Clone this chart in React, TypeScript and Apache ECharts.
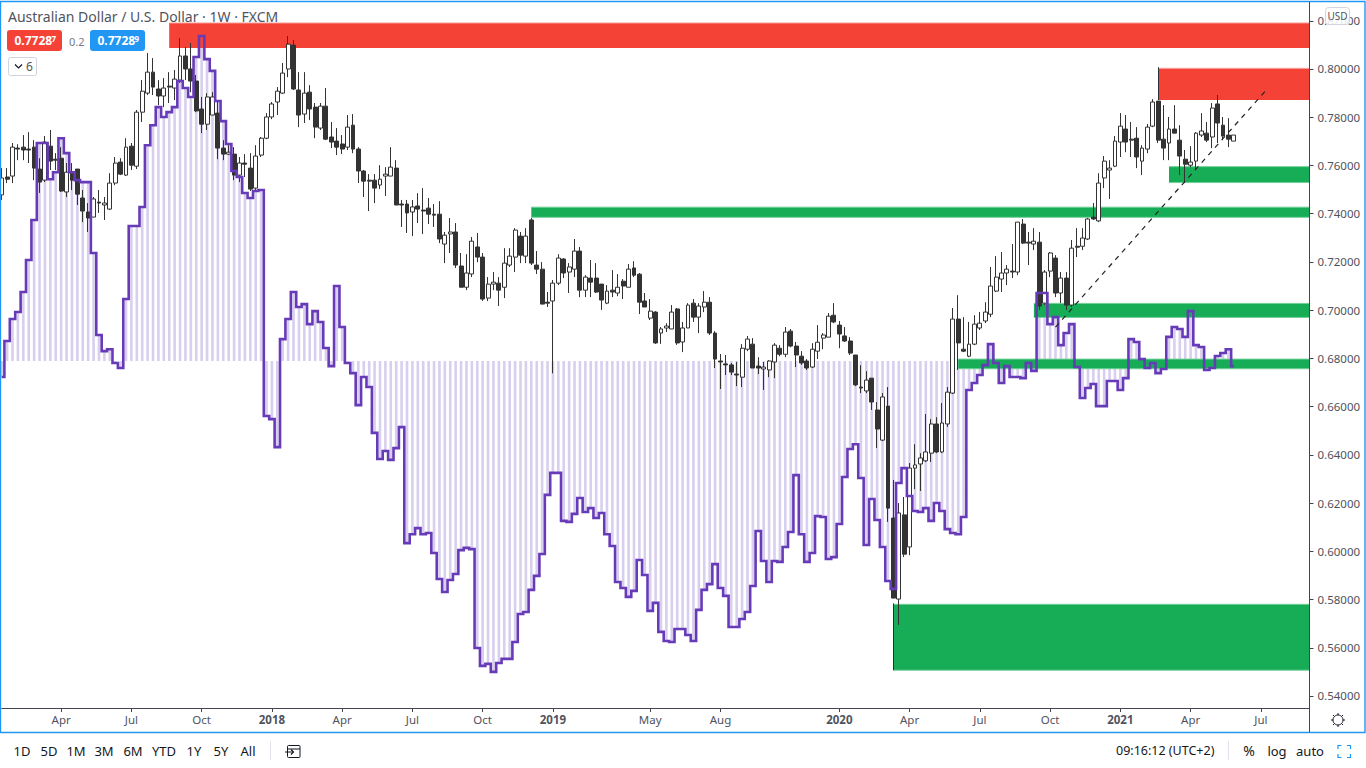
import React, { useEffect, useRef } from "react";
import * as echarts from "echarts";

// [open, close, low, high] per week
const candlesA = [
[.7478,.7548,.7457,.7589],[.7552,.7543,.7527,.7589],[.7556,.7676,.7527,.7693],[.7672,.7668,.7622,.7688],[.7676,.7664,.7622,.7726],
[.7668,.7664,.7610,.7738],[.7676,.7589,.7539,.7705],[.7585,.7531,.7486,.7630],[.7539,.7697,.7531,.7722],[.7680,.7618,.7581,.7747],
[.7626,.7622,.7581,.7651],[.7630,.7494,.7490,.7676],[.7490,.7572,.7469,.7610],[.7568,.7539,.7498,.7610],[.7585,.7481,.7436,.7585],
[.7465,.7411,.7365,.7498],[.7407,.7382,.7324,.7444],[.7386,.7461,.7386,.7469],[.7448,.7444,.7403,.7498],[.7436,.7444,.7374,.7469],
[.7419,.7527,.7415,.7568],[.7527,.7610,.7518,.7635],[.7614,.7564,.7560,.7630],[.7560,.7676,.7556,.7713],[.7680,.7601,.7581,.7693],
[.7597,.7821,.7585,.7830],[.7821,.7908,.7780,.7954],[.7900,.7987,.7892,.8066],[.7987,.7925,.7892,.8045],[.7917,.7888,.7850,.7954],
[.7888,.7921,.7842,.7962],[.7929,.7925,.7859,.7987],[.7921,.7958,.7871,.7996],[.7954,.8054,.7942,.8128],[.8054,.8000,.7954,.8091],
[.8000,.7950,.7904,.8108],[.7950,.7826,.7821,.7975],[.7834,.7771,.7734,.7884],[.7771,.7884,.7747,.7900],[.7809,.7884,.7809,.7904],
[.7817,.7672,.7626,.7871],[.7672,.7647,.7622,.7705],[.7647,.7655,.7643,.7693],[.7647,.7560,.7539,.7676],[.7560,.7610,.7531,.7635],
[.7610,.7605,.7552,.7647],[.7589,.7502,.7494,.7651],[.7506,.7639,.7498,.7684],[.7643,.7713,.7635,.7718],[.7713,.7801,.7709,.7817],
];
const candlesB = [
[.7801,.7855,.7792,.7863],[.7863,.7908,.7809,.7925],[.7900,.7983,.7896,.8025],[.8000,.8103,.7966,.8137],[.8099,.7917,.7913,.8120],
[.7913,.7809,.7759,.7987],[.7813,.7900,.7776,.7987],[.7904,.7834,.7788,.7933],[.7842,.7759,.7713,.7859],[.7755,.7846,.7747,.7859],
[.7846,.7709,.7705,.7921],[.7718,.7697,.7672,.7780],[.7701,.7676,.7643,.7755],[.7689,.7668,.7647,.7726],[.7676,.7759,.7664,.7809],
[.7767,.7668,.7651,.7813],[.7668,.7577,.7527,.7676],[.7577,.7535,.7469,.7581],[.7539,.7535,.7411,.7564],[.7539,.7506,.7444,.7564],
[.7519,.7543,.7502,.7601],[.7556,.7564,.7473,.7593],[.7556,.7593,.7556,.7676],[.7589,.7436,.7436,.7622],[.7440,.7436,.7345,.7457],
[.7440,.7403,.7320,.7457],[.7407,.7428,.7307,.7457],[.7432,.7419,.7361,.7485],[.7415,.7411,.7316,.7506],[.7423,.7398,.7357,.7465],
[.7398,.7394,.7345,.7440],[.7398,.7295,.7278,.7452],[.7274,.7311,.7195,.7324],[.7316,.7324,.7237,.7382],[.7324,.7187,.7175,.7361],
[.7183,.7095,.7095,.7237],[.7095,.7154,.7083,.7232],[.7150,.7286,.7137,.7303],[.7262,.7220,.7199,.7320],[.7220,.7046,.7038,.7237],
[.7050,.7108,.7038,.7137],[.7108,.7116,.7083,.7158],[.7112,.7083,.7017,.7137],[.7095,.7195,.7050,.7257],[.7187,.7224,.7179,.7257],
[.7220,.7332,.7158,.7340],[.7307,.7228,.7195,.7324],[.7224,.7307,.7195,.7340],[.7374,.7195,.7187,.7382],[.7187,.7170,.7150,.7245],
];
const candlesC = [
[.7170,.7025,.7025,.7199],[.7033,.7029,.7013,.7075],[.7038,.7112,.6738,.7125],[.7112,.7216,.7104,.7232],[.7212,.7154,.7133,.7216],
[.7158,.7179,.7071,.7195],[.7170,.7245,.7137,.7295],[.7245,.7083,.7054,.7262],[.7083,.7137,.7054,.7145],[.7133,.7116,.7054,.7208],
[.7133,.7075,.7071,.7195],[.7108,.7042,.7001,.7108],[.7029,.7079,.7025,.7104],[.7083,.7075,.7054,.7166],[.7071,.7095,.7058,.7149],
[.7120,.7100,.7046,.7129],[.7095,.7170,.7095,.7191],[.7175,.7145,.7137,.7203],[.7149,.7033,.6984,.7154],[.7038,.7013,.7013,.7071],
[.6967,.6996,.6959,.7046],[.6992,.6864,.6860,.6996],[.6905,.6922,.6860,.6930],[.6926,.6934,.6909,.6946],[.6922,.6992,.6922,.7021],
[.7005,.6864,.6856,.7009],[.6868,.6926,.6826,.6951],[.6926,.7021,.6926,.7029],[.7029,.6971,.6951,.7046],[.6971,.7017,.6905,.7029],
[.7013,.7033,.6992,.7079],[.7033,.6905,.6897,.7054],[.6905,.6797,.6760,.6913],[.6789,.6785,.6673,.6818],[.6777,.6773,.6731,.6814],
[.6773,.6743,.6731,.6781],[.6735,.6731,.6685,.6785],[.6722,.6842,.6681,.6859],[.6838,.6880,.6830,.6893],[.6859,.6760,.6760,.6884],
[.6768,.6760,.6735,.6805],[.6756,.6764,.6669,.6785],[.6752,.6789,.6722,.6793],[.6785,.6855,.6718,.6863],[.6842,.6817,.6809,.6855],
[.6817,.6909,.6805,.6930],[.6913,.6851,.6846,.6922],[.6851,.6814,.6764,.6868],[.6809,.6781,.6773,.6830],[.6789,.6760,.6752,.6797],
];
const candlesD = [
[.6764,.6838,.6760,.6863],[.6830,.6867,.6797,.6938],[.6884,.6897,.6838,.6905],[.6888,.6975,.6888,.6988],[.6979,.6951,.6946,.7029],
[.6938,.6901,.6842,.6955],[.6893,.6872,.6868,.6930],[.6872,.6822,.6814,.6888],[.6814,.6690,.6685,.6814],[.6681,.6677,.6656,.6772],
[.6665,.6710,.6656,.6747],[.6718,.6619,.6586,.6718],[.6586,.6507,.6428,.6619],[.6461,.6640,.6457,.6656],[.6602,.6179,.6122,.6681],
[.6138,.5806,.5806,.6296],[.5802,.6159,.5695,.6200],[.6151,.5988,.5976,.6225],[.6018,.6345,.5984,.6366],[.6345,.6358,.6258,.6444],
[.6362,.6387,.6250,.6407],[.6375,.6412,.6370,.6569],[.6407,.6528,.6370,.6548],[.6528,.6412,.6407,.6556],[.6412,.6532,.6407,.6615],
[.6528,.6660,.6516,.6681],[.6656,.6963,.6652,.7009],[.6963,.6864,.6752,.7062],[.6838,.6830,.6826,.6971],[.6809,.6859,.6805,.6951],
[.6859,.6942,.6855,.6979],[.6926,.6946,.6918,.6992],[.6955,.6992,.6946,.7033],[.6983,.7100,.6971,.7179],[.7079,.7137,.7075,.7224],
[.7129,.7154,.7075,.7241],[.7154,.7170,.7104,.7187],[.7162,.7158,.7133,.7274],[.7158,.7365,.7145,.7365],[.7357,.7278,.7274,.7378],
[.7282,.7278,.7187,.7324],[.7274,.7286,.7249,.7340],[.7282,.7017,.7001,.7324],[.7029,.7158,.7021,.7166],[.7162,.7237,.7137,.7241],
[.7216,.7071,.7054,.7228],[.7071,.7133,.7029,.7158],[.7133,.7021,.7001,.7158],[.7021,.7257,.7013,.7291],[.7265,.7261,.7220,.7340],
];
const candlesE = [
[.7265,.7299,.7249,.7340],[.7295,.7378,.7291,.7382],[.7386,.7378,.7374,.7444],[.7370,.7527,.7365,.7568],[.7548,.7618,.7506,.7639],
[.7581,.7589,.7461,.7622],[.7597,.7701,.7593,.7722],[.7697,.7763,.7635,.7817],[.7751,.7697,.7655,.7809],[.7709,.7705,.7635,.7780],
[.7713,.7635,.7589,.7759],[.7618,.7672,.7560,.7684],[.7668,.7759,.7651,.7772],[.7763,.7863,.7759,.7875],[.7867,.7705,.7693,.7867],
[.7709,.7672,.7622,.7850],[.7693,.7751,.7622,.7801],[.7751,.7734,.7734,.7850],[.7705,.7639,.7560,.7767],[.7626,.7605,.7527,.7664],
[.7601,.7614,.7593,.7680],[.7618,.7734,.7581,.7738],[.7726,.7743,.7718,.7817],[.7734,.7705,.7697,.7780],[.7718,.7838,.7672,.7859],
[.7855,.7776,.7693,.7892],[.7767,.7722,.7705,.7801],[.7726,.7709,.7676,.7796],[.7701,.7726,.7701,.7726],
];

const indicatorA = [
.6723,.6872,.6963,.6992,.7075,.7208,.7374,.7693,.7693,.7543,
.7572,.7713,.7651,.7572,.7539,.7531,.7531,.7237,.6897,.6830,
.6838,.6781,.6760,.7046,.7349,.7349,.7428,.7684,.7767,.7842,
.7801,.7821,.7842,.7950,.7921,.7884,.8050,.8137,.8041,.7992,
.7867,.7784,.7689,.7577,.7552,.7486,.7465,.7494,.7498,.6561,
];
const indicatorB = [
.6548,.6432,.6880,.6963,.7075,.7013,.7025,.6942,.6996,.6951,
.6843,.6768,.7100,.6930,.6781,.6739,.6606,.6723,.6681,.6491,
.6383,.6416,.6379,.6428,.6515,.6034,.6071,.6096,.6071,.6076,
.5993,.5885,.5831,.5881,.5906,.6005,.6014,.6009,.5599,.5525,
.5533,.5500,.5537,.5554,.5554,.5624,.5740,.5748,.5840,.5898,
];
const indicatorC = [
.5989,.6234,.6325,.6325,.6126,.6122,.6155,.6221,.6163,.6179,
.6138,.6159,.6071,.6022,.5873,.5848,.5811,.5836,.5964,.5902,
.5753,.5786,.5666,.5628,.5624,.5678,.5678,.5653,.5628,.5757,
.5840,.5864,.5947,.5848,.5815,.5686,.5686,.5719,.5748,.5856,
.6084,.5960,.5873,.5960,.5956,.6018,.6080,.6316,.6071,.5956,
];
const indicatorD = [
.5993,.6146,.6142,.5968,.5976,.6113,.6308,.6424,.6444,.6304,
.6026,.6217,.6130,.6018,.5877,.5844,.6283,.6345,.6229,.6167,
.6163,.6179,.6126,.6200,.6167,.6092,.6076,.6071,.6142,.6669,
.6698,.6731,.6772,.6859,.6781,.6698,.6768,.6723,.6723,.6718,
.6781,.6748,.7071,.7071,.6942,.6971,.6855,.6905,.6942,.6764,
];
const indicatorE = [
.6636,.6677,.6694,.6602,.6602,.6706,.6706,.6669,.6718,.6880,
.6868,.6797,.6760,.6781,.6739,.6756,.6889,.6930,.6922,.6889,
.6996,.6855,.6847,.6752,.6760,.6810,.6822,.6838,.6768,
];
const indicatorBase = 0.6789;

// [first week, top price, bottom price]
const redZones = [[31, .8191, .8087], [214, .8003, .7871]];
const greenZones = [[216, .7595, .7529], [98, .7427, .7385], [191, .7028, .6970], [177, .6797, .6757], [165, .5780, .5507]];
const trendLine = [[195, .6930], [234, .7913]];

const weekCount = 243;
const axisMonths: [number, string][] = [
  [11, "Apr"], [24, "Jul"], [37, "Oct"], [50, "2018"], [63, "Apr"], [76, "Jul"], [89, "Oct"], [102, "2019"],
  [120, "May"], [133, "Aug"], [155, "2020"], [168, "Apr"], [181, "Jul"], [194, "Oct"], [207, "2021"], [220, "Apr"], [233, "Jul"],
];
const priceTicks = [.54, .56, .58, .60, .62, .64, .66, .68, .70, .72, .74, .76, .78, .80, .82];
const rangeButtons: [string, number][] = [["1D", 22], ["5D", 49], ["1M", 76], ["3M", 104], ["6M", 133], ["YTD", 164], ["1Y", 194], ["5Y", 221], ["All", 248]];

const UI_FONT = "'Noto Sans', sans-serif";
const AXIS_GREY = "#50535e";

function zoneSeries(data: number[][], fill: string, edge: string, leftEdgeFor: number[]) {
  return {
    type: "custom",
    z: 2,
    silent: true,
    clip: true,
    encode: { x: 0, y: [1, 2] },
    data,
    renderItem(params: any, api: any) {
      const start = api.coord([api.value(0), api.value(1)]);
      const end = api.coord([api.value(0), api.value(2)]);
      const right = params.coordSys.x + params.coordSys.width;
      const children: any[] = [
        {
          type: "rect",
          shape: { x: start[0], y: start[1], width: right - start[0], height: end[1] - start[1] },
          style: { fill },
        },
        {
          type: "line",
          shape: { x1: start[0], y1: start[1], x2: right, y2: start[1] },
          style: { stroke: edge, lineWidth: 1 },
        },
      ];
      if (fill.toLowerCase() !== "#f44336") {
        children.push({
          type: "line",
          shape: { x1: start[0], y1: end[1], x2: right, y2: end[1] },
          style: { stroke: edge, lineWidth: 1 },
        });
      }
      if (leftEdgeFor.includes(api.value(0))) {
        const edgeX = Math.floor(start[0]) + 0.5;
        children.push({
          type: "line",
          shape: { x1: edgeX, y1: start[1] - 1, x2: edgeX, y2: end[1] },
          style: { stroke: "#2a2e39", lineWidth: 1 },
        });
      }
      return { type: "group", children };
    },
  };
}

function buildGraphic() {
  const t = (text: string, x: number, y: number, fontSize: number, fill: string, extra: any = {}) => ({
    type: "text", z: 200, x, y, silent: true,
    style: { text, fontSize, fill, fontFamily: UI_FONT, textVerticalAlign: "middle", verticalAlign: "middle", ...extra },
  });
  const line = (x1: number, y1: number, x2: number, y2: number, stroke: string, lineWidth = 1) => ({
    type: "line", z: 200, silent: true, shape: { x1, y1, x2, y2 }, style: { stroke, lineWidth },
  });
  const gearSpokes = [0, 45, 90, 135, 180, 225, 270, 315].map((deg) => {
    const a = (deg * Math.PI) / 180;
    return line(1338 + Math.cos(a) * 5, 720 + Math.sin(a) * 5, 1338 + Math.cos(a) * 7, 720 + Math.sin(a) * 7, "#131722", 1);
  });
  const poly = (points: number[][], stroke: string) => ({
    type: "polyline", z: 200, silent: true, shape: { points }, style: { stroke, lineWidth: 1.2, fill: "none" },
  });
  return [
    { type: "rect", z: 199, silent: true, shape: { x: 0.5, y: 1.5, width: 1364.5, height: 731 }, style: { fill: "none", stroke: "#2196f3", lineWidth: 1.4 } },
    line(1309.5, 2, 1309.5, 732, "#434651", 1),
    t("Australian Dollar / U.S. Dollar · 1W · FXCM", 8, 16.5, 14, "#50535e"),
    { type: "rect", z: 200, silent: true, shape: { x: 7, y: 30, width: 55, height: 21, r: 3 }, style: { fill: "#f44336" } },
    t("0.7728", 14.5, 40.5, 12, "#ffffff", { fontWeight: "bold" }),
    t("7", 51.5, 38, 8, "#ffffff", { fontWeight: "bold" }),
    t("0.2", 69, 41, 11, "#787b86"),
    { type: "rect", z: 200, silent: true, shape: { x: 90, y: 30, width: 55, height: 21, r: 3 }, style: { fill: "#2196f3" } },
    t("0.7728", 97.5, 40.5, 12, "#ffffff", { fontWeight: "bold" }),
    t("9", 134.5, 38, 8, "#ffffff", { fontWeight: "bold" }),
    { type: "rect", z: 200, silent: true, shape: { x: 8.5, y: 57.5, width: 28, height: 18, r: 2 }, style: { fill: "#ffffff", stroke: "#d1d4dc", lineWidth: 1 } },
    poly([[15, 64.5], [18.5, 68], [22, 64.5]], "#131722"),
    t("6", 26, 66.5, 12, "#50535e"),
    { type: "rect", z: 201, silent: true, shape: { x: 1325.5, y: 7.5, width: 24, height: 17, r: 3 }, style: { fill: "rgba(255,255,255,0.85)", stroke: "#d1d4dc", lineWidth: 1 } },
    { ...t("USD", 1337.5, 15.5, 10, "#50535e", { textAlign: "center", align: "center" }), z: 202 },
    { type: "circle", z: 200, silent: true, shape: { cx: 1338, cy: 720, r: 5 }, style: { fill: "none", stroke: "#131722", lineWidth: 1 } },
    ...gearSpokes,
    ...rangeButtons.map(([label, x]) => t(label, x, 750.5, 13, "#131722", { textAlign: "center", align: "center" })),
    line(270.5, 741, 270.5, 760, "#e0e3eb", 1),
    { type: "rect", z: 200, silent: true, shape: { x: 287.5, y: 745.5, width: 12.5, height: 12, r: 1 }, style: { fill: "none", stroke: "#131722", lineWidth: 1 } },
    line(287.5, 749, 300, 749, "#131722", 1),
    line(285, 752, 293, 752, "#131722", 1),
    poly([[291, 749.5], [293.5, 752], [291, 754.5]], "#131722"),
    t("09:16:12 (UTC+2)", 1116, 750.5, 12.5, "#131722"),
    line(1228.5, 741, 1228.5, 760, "#e0e3eb", 1),
    t("%", 1249, 750.5, 14, "#131722", { textAlign: "center", align: "center" }),
    t("log", 1277, 750.5, 13, "#131722", { textAlign: "center", align: "center" }),
    t("auto", 1310, 750.5, 13, "#131722", { textAlign: "center", align: "center" }),
    poly([[1338, 749], [1338, 745.5], [1341.5, 745.5]], "#2196f3"),
    poly([[1347, 745.5], [1350.5, 745.5], [1350.5, 749]], "#2196f3"),
    poly([[1338, 754], [1338, 757.5], [1341.5, 757.5]], "#2196f3"),
    poly([[1347, 757.5], [1350.5, 757.5], [1350.5, 754]], "#2196f3"),
  ];
}

export default function App() {
  const ref = useRef<HTMLDivElement>(null);

  useEffect(() => {
    document.body.style.margin = "0";
    document.body.style.background = "#ffffff";
    const chart = echarts.init(ref.current!, undefined, { renderer: "svg" });
    const labelByIndex = new Map<number, string>(axisMonths);
    const categories = Array.from({ length: weekCount }, (_, i) => labelByIndex.get(i) ?? "");
    const candles = [...candlesA, ...candlesB, ...candlesC, ...candlesD, ...candlesE];
    const indicator = [...indicatorA, ...indicatorB, ...indicatorC, ...indicatorD, ...indicatorE];

    chart.setOption({
      animation: false,
      backgroundColor: "#ffffff",
      grid: { left: 1.7, right: 56.5, top: 2, bottom: 60 },
      xAxis: {
        type: "category",
        data: categories,
        boundaryGap: false,
        axisLine: { show: true, onZero: false, lineStyle: { color: "#434651", width: 1 } },
        axisTick: { show: true, length: 4, interval: (i: number) => labelByIndex.has(i), lineStyle: { color: "#434651" } },
        axisLabel: {
          interval: (i: number) => labelByIndex.has(i),
          margin: 5,
          fontSize: 11.5,
          fontFamily: UI_FONT,
          color: AXIS_GREY,
          formatter: (v: string) => (/^\d{4}$/.test(v) ? `{year|${v}}` : v),
          rich: { year: { fontSize: 11.5, fontWeight: "bold", fontFamily: UI_FONT, color: "#50535e" } },
        },
        splitLine: { show: false },
      },
      yAxis: {
        type: "value",
        position: "right",
        min: 0.53502,
        max: 0.82778,
        scale: true,
        axisLine: { show: false },
        axisTick: { show: true, length: 4, customValues: priceTicks, lineStyle: { color: "#434651" } },
        axisLabel: {
          margin: 8,
          fontSize: 11.5,
          fontFamily: UI_FONT,
          color: AXIS_GREY,
          customValues: priceTicks,
          formatter: (v: number) => v.toFixed(5),
        },
        splitLine: { show: false },
      },
      graphic: buildGraphic(),
      series: [
        {
          type: "custom",
          z: 1,
          silent: true,
          clip: true,
          encode: { x: 0, y: [1, 2] },
          data: indicator.map((v, i) => [i, indicatorBase, v]),
          renderItem(_p: any, api: any) {
            const a = api.coord([api.value(0), api.value(1)]);
            const b = api.coord([api.value(0), api.value(2)]);
            return {
              type: "rect",
              shape: { x: a[0] - 1.3, y: Math.min(a[1], b[1]), width: 2.6, height: Math.abs(a[1] - b[1]) },
              style: { fill: "#d8cfee" },
            };
          },
        },
        zoneSeries(redZones, "#f44336", "#f9a9a3", [214]),
        zoneSeries(greenZones, "#16ad56", "#6fcf97", [165]),
        {
          type: "candlestick",
          z: 3,
          silent: true,
          barWidth: 4.4,
          data: candles,
          itemStyle: { color: "#ffffff", color0: "#333333", borderColor: "#333333", borderColor0: "#333333", borderWidth: 1 },
        },
        {
          type: "line",
          z: 4,
          silent: true,
          step: "middle",
          showSymbol: false,
          data: indicator,
          lineStyle: { color: "#673ab7", width: 2.6, join: "miter" },
        },
        {
          type: "line",
          z: 5,
          silent: true,
          showSymbol: false,
          data: trendLine,
          lineStyle: { color: "#222222", width: 1.2, type: [5, 5] },
        },
      ],
    });
    return () => chart.dispose();
  }, []);

  return <div ref={ref} style={{ position: "absolute", left: 0, top: 0, width: 1366, height: 768 }} />;
}
